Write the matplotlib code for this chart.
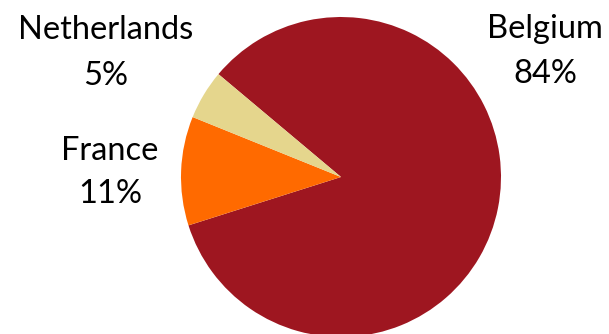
import matplotlib
matplotlib.use("Agg")
import matplotlib.pyplot as plt

# data
countries = ["Belgium", "France", "Netherlands"]
shares = [84, 11, 5]
colors = ["#9E1620", "#FF6A00", "#E5D68D"]

# label anchor points: x centre, name baseline, percent baseline (px from top)
label_pos = {
    "Belgium": (545, 38, 83),
    "France": (110, 160, 203),
    "Netherlands": (106, 39, 85),
}

plt.rcParams['font.family'] = ['Lato', 'DejaVu Sans']

W, H = 609, 334
fig = plt.figure(figsize=(W / 100, H / 100), dpi=100)
ax = fig.add_axes([0, 0, 1, 1])

# pie in pixel-like data coords, y measured from bottom
ax.pie(shares, colors=colors, startangle=140, counterclock=False,
       center=(341, H - 177), radius=160,
       wedgeprops=dict(linewidth=0))

ax.set_xlim(0, W)
ax.set_ylim(0, H)
ax.set_aspect('equal')
ax.axis('off')

for name, val in zip(countries, shares):
    x, y1, y2 = label_pos[name]
    ax.text(x, H - y1, name, ha='center', va='baseline', fontsize=23.5, color='black')
    ax.text(x, H - y2, f"{val}%", ha='center', va='baseline', fontsize=23.5, color='black')

fig.savefig("out.png", dpi=100)
